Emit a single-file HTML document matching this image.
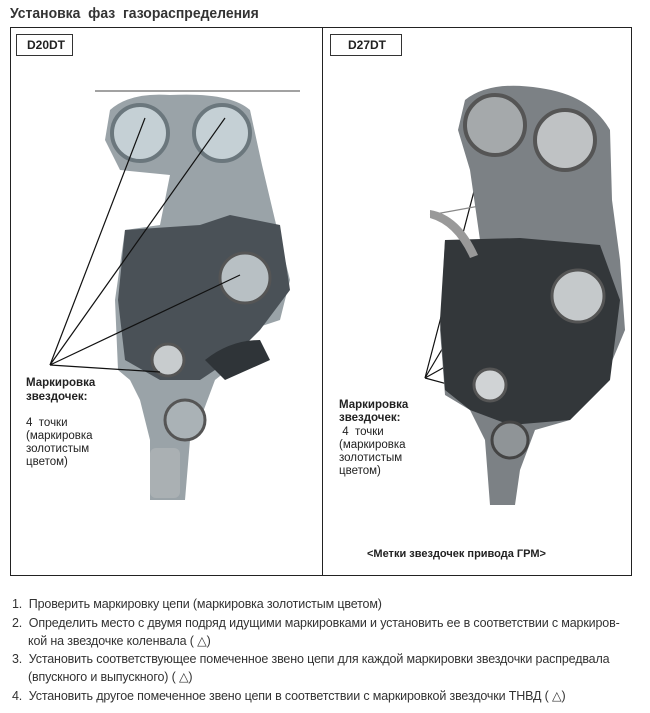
<!DOCTYPE html>
<html><head><meta charset="utf-8"><style>
body{margin:0;width:650px;height:713px;background:#fff;font-family:"Liberation Sans",sans-serif;position:relative;overflow:hidden}
.t{position:absolute;white-space:nowrap;color:#222}
.n{font-size:12.5px;color:#333;letter-spacing:-0.15px}
</style></head><body>
<div class="t" style="left:10px;top:5px;font-size:15px;font-weight:bold;color:#333;transform:scaleX(0.93);transform-origin:0 0">Установка&nbsp; фаз&nbsp; газораспределения</div>
<svg width="650" height="713" style="position:absolute;left:0;top:0">
<rect x="10.5" y="27.5" width="621" height="548" fill="none" stroke="#222"/>
<line x1="322.5" y1="27" x2="322.5" y2="576" stroke="#222"/>
<rect x="16.5" y="34.5" width="56" height="21" fill="#fff" stroke="#333"/>
<rect x="330.5" y="34.5" width="71" height="21" fill="#fff" stroke="#333"/>
<line x1="95" y1="91" x2="300" y2="91" stroke="#444"/>
<path d="M110 110 Q130 92 170 95 Q230 92 250 110 L262 165 L275 220 L290 280 L280 320 L250 330 L240 360 L215 380 L200 420 L190 440 L185 500 L150 500 L150 440 L140 400 L130 380 L118 370 L115 300 L125 230 L160 225 L170 175 L120 170 L105 140Z" fill="#9aa3a8"/>
<path d="M125 230 L200 225 L230 215 L280 225 L290 290 L260 330 L230 360 L200 380 L160 380 L125 360 L118 300Z" fill="#4a5157"/>
<circle cx="140" cy="133" r="28" fill="#c5d0d5" stroke="#6b777d" stroke-width="4"/>
<circle cx="222" cy="133" r="28" fill="#c5d0d5" stroke="#6b777d" stroke-width="4"/>
<circle cx="245" cy="278" r="25" fill="#b8c0c4" stroke="#555" stroke-width="3"/>
<circle cx="168" cy="360" r="16" fill="#c8ccce" stroke="#555" stroke-width="3"/>
<circle cx="185" cy="420" r="20" fill="#aab2b6" stroke="#555" stroke-width="3"/>
<rect x="150" y="448" width="30" height="50" rx="6" fill="#aab0b3"/>
<path d="M205 360 Q230 340 260 340 L270 360 L225 380Z" fill="#2f3438"/>
<g stroke="#111" stroke-width="1.2">
<line x1="50" y1="365" x2="145" y2="118"/><line x1="50" y1="365" x2="225" y2="118"/>
<line x1="50" y1="365" x2="240" y2="275"/><line x1="50" y1="365" x2="160" y2="372"/>
<line x1="425" y1="378" x2="494" y2="115"/><line x1="425" y1="378" x2="572" y2="130"/>
<line x1="425" y1="378" x2="572" y2="296"/><line x1="425" y1="378" x2="488" y2="395"/>
<line x1="430" y1="215" x2="540" y2="195" stroke="#888"/>
</g>
<path d="M465 100 Q490 80 540 88 Q590 95 610 130 L612 200 L620 260 L625 330 L600 390 L570 420 L535 430 L520 470 L515 505 L490 505 L485 440 L470 410 L445 395 L440 330 L445 240 L480 240 L470 170 L458 130Z" fill="#7c8185"/>
<path d="M445 240 L520 238 L600 245 L620 300 L610 380 L570 420 L510 425 L470 410 L445 390 L440 320Z" fill="#33373a"/>
<circle cx="495" cy="125" r="30" fill="#a5a9ab" stroke="#555" stroke-width="4"/>
<circle cx="565" cy="140" r="30" fill="#bfc2c4" stroke="#555" stroke-width="4"/>
<circle cx="578" cy="296" r="26" fill="#c5c9cb" stroke="#555" stroke-width="3"/>
<circle cx="490" cy="385" r="16" fill="#d0d3d5" stroke="#555" stroke-width="3"/>
<circle cx="510" cy="440" r="18" fill="#8f9497" stroke="#444" stroke-width="3"/>
<path d="M430 210 Q460 215 478 255 L470 258 Q455 225 430 218Z" fill="#999"/>
</svg>
<div class="t" style="left:27px;top:38px;font-size:12px;font-weight:bold">D20DT</div>
<div class="t" style="left:348px;top:38px;font-size:12px;font-weight:bold">D27DT</div>
<div class="t" style="left:26px;top:376px;font-size:11.5px;font-weight:bold;line-height:14px">Маркировка<br>звездочек:</div>
<div class="t" style="left:26px;top:417px;font-size:11.5px;line-height:13px">4&nbsp; точки<br>(маркировка<br>золотистым<br>цветом)</div>
<div class="t" style="left:339px;top:399px;font-size:11.5px;font-weight:bold;line-height:13px">Маркировка<br>звездочек:</div>
<div class="t" style="left:339px;top:426px;font-size:11.5px;line-height:13px">&nbsp;4&nbsp; точки<br>(маркировка<br>золотистым<br>цветом)</div>
<div class="t" style="left:367px;top:548px;font-size:11px;font-weight:bold">&lt;Метки звездочек привода ГРМ&gt;</div>
<div class="t n" style="left:12px;top:597px">1.&nbsp; Проверить маркировку цепи (маркировка золотистым цветом)</div>
<div class="t n" style="left:12px;top:616px">2.&nbsp; Определить место с двумя подряд идущими маркировками и установить ее в соответствии с маркиров-</div>
<div class="t n" style="left:28px;top:633px">кой на звездочке коленвала ( △)</div>
<div class="t n" style="left:12px;top:652px">3.&nbsp; Установить соответствующее помеченное звено цепи для каждой маркировки звездочки распредвала</div>
<div class="t n" style="left:28px;top:669px">(впускного и выпускного) ( △)</div>
<div class="t n" style="left:12px;top:688px">4.&nbsp; Установить другое помеченное звено цепи в соответствии с маркировкой звездочки ТНВД ( △)</div>
</body></html>
